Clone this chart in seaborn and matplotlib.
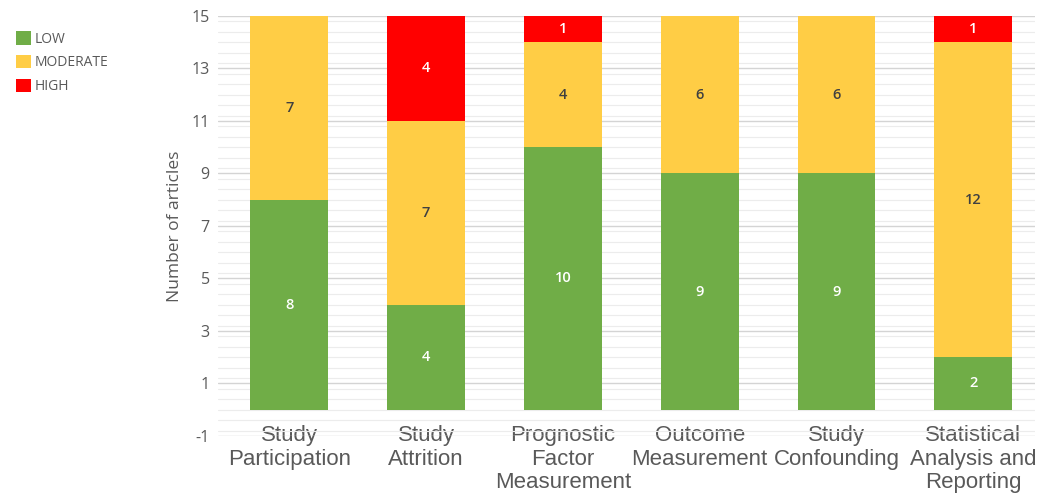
import numpy as np
import pandas as pd
import matplotlib
matplotlib.use("Agg")
import matplotlib.pyplot as plt
import seaborn as sns
from matplotlib.patches import Patch
from matplotlib.ticker import MultipleLocator

domains = ["Study\nParticipation", "Study\nAttrition", "Prognostic\nFactor\nMeasurement",
           "Outcome\nMeasurement", "Study\nConfounding", "Statistical\nAnalysis and\nReporting"]
low = [8, 4, 10, 9, 9, 2]
moderate = [7, 7, 4, 6, 6, 12]
high = [0, 4, 1, 0, 0, 1]
y_ticks = [-1, 1, 3, 5, 7, 9, 11, 13, 15]

colors = {"LOW": "#70AD47", "MODERATE": "#FFCD45", "HIGH": "#FF0000"}
text_colors = {"LOW": "white", "MODERATE": "#404040", "HIGH": "white"}

df = pd.DataFrame({"domain": domains, "LOW": low, "MODERATE": moderate, "HIGH": high})
df["cum_low"] = df["LOW"]
df["cum_mod"] = df["LOW"] + df["MODERATE"]
df["cum_high"] = df["cum_mod"] + df["HIGH"]

sns.set_style("white")
plt.rcParams["font.family"] = ["Open Sans", "DejaVu Sans"]
plt.rcParams["axes.unicode_minus"] = False

fig = plt.figure(figsize=(10.39, 4.96), dpi=100)
ax = fig.add_axes([0.21, 0.121, 0.786, 0.847])

width = 0.57
# stacked bars: draw cumulative totals from the top segment down
for col, key in [("cum_high", "HIGH"), ("cum_mod", "MODERATE"), ("cum_low", "LOW")]:
    sns.barplot(data=df, x="domain", y=col, color=colors[key], width=width,
                saturation=1, ax=ax, zorder=3, edgecolor="none", linewidth=0)

# segment labels
for i in range(len(domains)):
    base = 0
    for key in ["LOW", "MODERATE", "HIGH"]:
        v = df.loc[i, key]
        if v > 0:
            ax.text(i, base + v / 2, str(v), ha="center", va="center",
                    fontsize=10.5, fontweight="semibold", color=text_colors[key], zorder=5)
        base += v

ax.set_ylim(-1, 15)
ax.set_xlim(-0.52, 5.45)
ax.set_yticks(y_ticks)
ax.yaxis.set_minor_locator(MultipleLocator(0.4))
ax.grid(axis="y", which="major", color="#d4d4d4", linewidth=1.0, zorder=0)
ax.grid(axis="y", which="minor", color="#ececec", linewidth=0.8, zorder=0)
ax.set_axisbelow(True)
for s in ax.spines.values():
    s.set_visible(False)

ax.set_xlabel("")
ax.set_ylabel("Number of articles", fontsize=12.5, color="#595959", labelpad=6)
ax.tick_params(axis="y", which="both", length=0, labelsize=11.5, labelcolor="#595959", pad=6)
ax.tick_params(axis="x", length=0, labelsize=16, labelcolor="#595959", pad=-8)
for lbl in ax.get_xticklabels():
    lbl.set_fontfamily(["Liberation Sans", "DejaVu Sans"])
    lbl.set_linespacing(1.17)

handles = [Patch(facecolor=colors[k], edgecolor="none", label=k) for k in ["LOW", "MODERATE", "HIGH"]]
fig.legend(handles=handles, loc="upper left", bbox_to_anchor=(0.003, 0.962), frameon=False,
           fontsize=10, labelcolor="#595959", handlelength=1.1, handleheight=1.1,
           handletextpad=0.3, labelspacing=0.6)

fig.savefig("out.png", dpi=100)
